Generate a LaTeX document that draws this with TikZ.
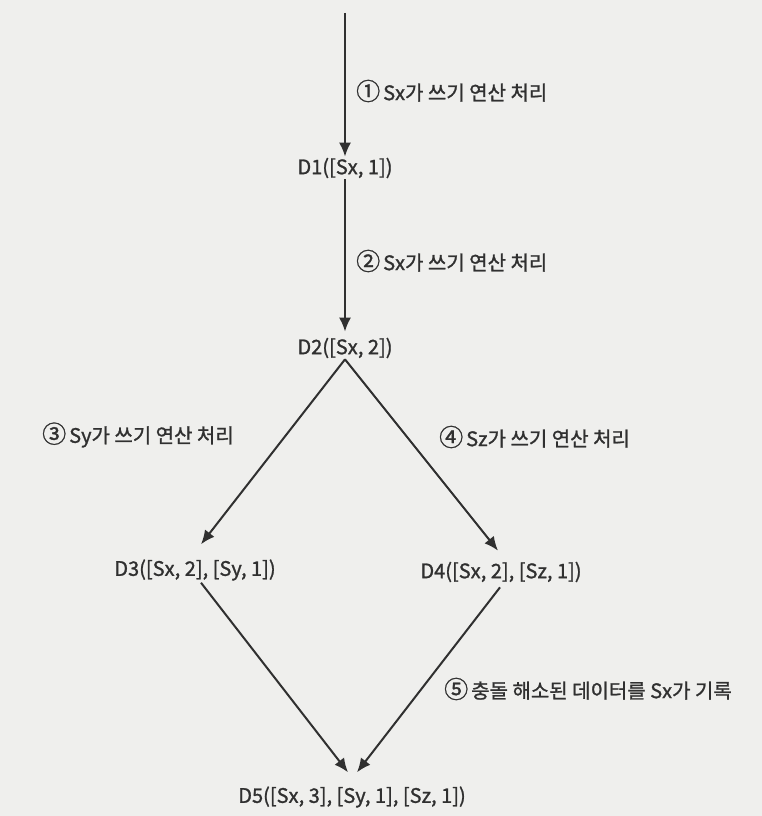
\documentclass[tikz,border=0pt]{standalone}
\usepackage{fontspec}
\setmainfont{Noto Sans CJK KR}[UprightFeatures={FakeBold=1.2}]
\usetikzlibrary{arrows.meta}
\definecolor{paper}{RGB}{239,239,237}
\definecolor{ink}{RGB}{48,48,48}
\newcommand{\circnum}[1]{{\fontsize{24}{24}\selectfont #1}\hspace{3pt}}
\tikzset{
  state/.style={inner sep=0pt, text=ink, font=\fontsize{20}{22}\selectfont},
  lbl/.style={inner sep=0pt, anchor=west, text=ink, font=\fontsize{20}{22}\selectfont},
  arr/.style={draw=ink, line width=2pt, -{Latex[length=14pt,width=12pt]}}
}
\begin{document}
\begin{tikzpicture}[x=1pt,y=-1pt]
\fill[paper] (0,0) rectangle (762,816);
\useasboundingbox (0,0) rectangle (762,816);
\coordinate (top) at (345,13);
\node[state] (D1) at (345,168) {D1([Sx, 1])};
\node[state] (D2) at (345,348) {D2([Sx, 2])};
\node[state] (D3) at (195,570) {D3([Sx, 2], [Sy, 1])};
\node[state] (D4) at (501,572) {D4([Sx, 2], [Sz, 1])};
\node[state] (D5) at (352,797) {D5([Sx, 3], [Sy, 1], [Sz, 1])};
\node[lbl] (L1) at (356,91) {\circnum{①}Sx가 쓰기 연산 처리};
\node[lbl] (L2) at (356,261) {\circnum{②}Sx가 쓰기 연산 처리};
\node[lbl] (L3) at (42,435) {\circnum{③}Sy가 쓰기 연산 처리};
\node[lbl] (L4) at (439,437) {\circnum{④}Sz가 쓰기 연산 처리};
\node[lbl] (L5) at (444,689) {\circnum{⑤}충돌 해소된 데이터를 Sx가 기록};
\draw[arr] (top) -- ([yshift=1pt]D1.north);
\draw[arr] ([yshift=-1pt]D1.south) -- ([yshift=6pt]D2.north);
\draw[arr] ([yshift=-1pt]D2.south) -- ([xshift=6pt,yshift=15pt]D3.north);
\draw[arr] ([yshift=-1pt]D2.south) -- ([xshift=-3pt,yshift=11pt]D4.north);
\draw[arr] ([xshift=6pt,yshift=-2pt]D3.south) -- ([xshift=-4pt,yshift=14pt]D5.north);
\draw[arr] ([xshift=-1pt,yshift=-5pt]D4.south) -- ([xshift=5pt,yshift=14pt]D5.north);
\end{tikzpicture}
\end{document}
